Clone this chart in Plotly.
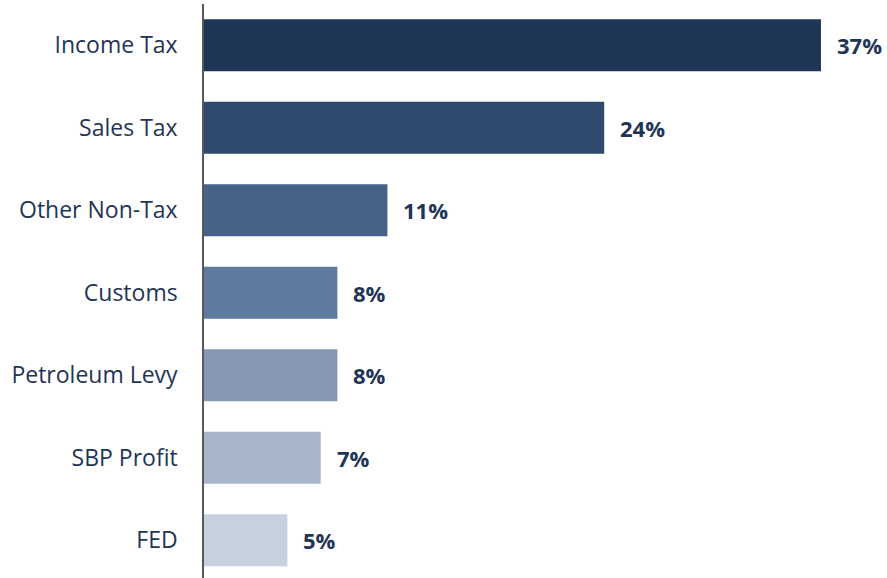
import plotly.graph_objects as go

categories = ["Income Tax", "Sales Tax", "Other Non-Tax", "Customs", "Petroleum Levy", "SBP Profit", "FED"]
values = [37, 24, 11, 8, 8, 7, 5]
labels = ["37%", "24%", "11%", "8%", "8%", "7%", "5%"]
colors = ["#1F3556", "#2F4A6E", "#456287", "#5E7A9F", "#8698B5", "#A9B5C8", "#C7D0DE"]

TEXT = "#1F3556"

fig = go.Figure(go.Bar(
    y=categories, x=values, orientation="h",
    marker=dict(color=colors, line=dict(width=0)),
    width=0.63, hoverinfo="skip",
))

for c, v, t in zip(categories, values, labels):
    fig.add_annotation(x=v, y=c, text="<b>%s</b>" % t, showarrow=False,
                       xanchor="left", xshift=14, yshift=0,
                       font=dict(family="Open Sans", size=22, color=TEXT))

fig.update_layout(
    width=887, height=578,
    margin=dict(l=204, r=0, t=4, b=0),
    paper_bgcolor="white", plot_bgcolor="white",
    showlegend=False,
    font=dict(family="Open Sans", size=23, color=TEXT),
    xaxis=dict(range=[0, 40.96], visible=False, showgrid=False, zeroline=False),
    yaxis=dict(type="category", range=[6.458, -0.5], showgrid=False, zeroline=False,
               showline=True, linecolor="#595959", linewidth=1.5,
               ticks="", ticklabelstandoff=20,
               tickfont=dict(family="Open Sans", size=23, color=TEXT)),
)

fig.write_html("out.html")
